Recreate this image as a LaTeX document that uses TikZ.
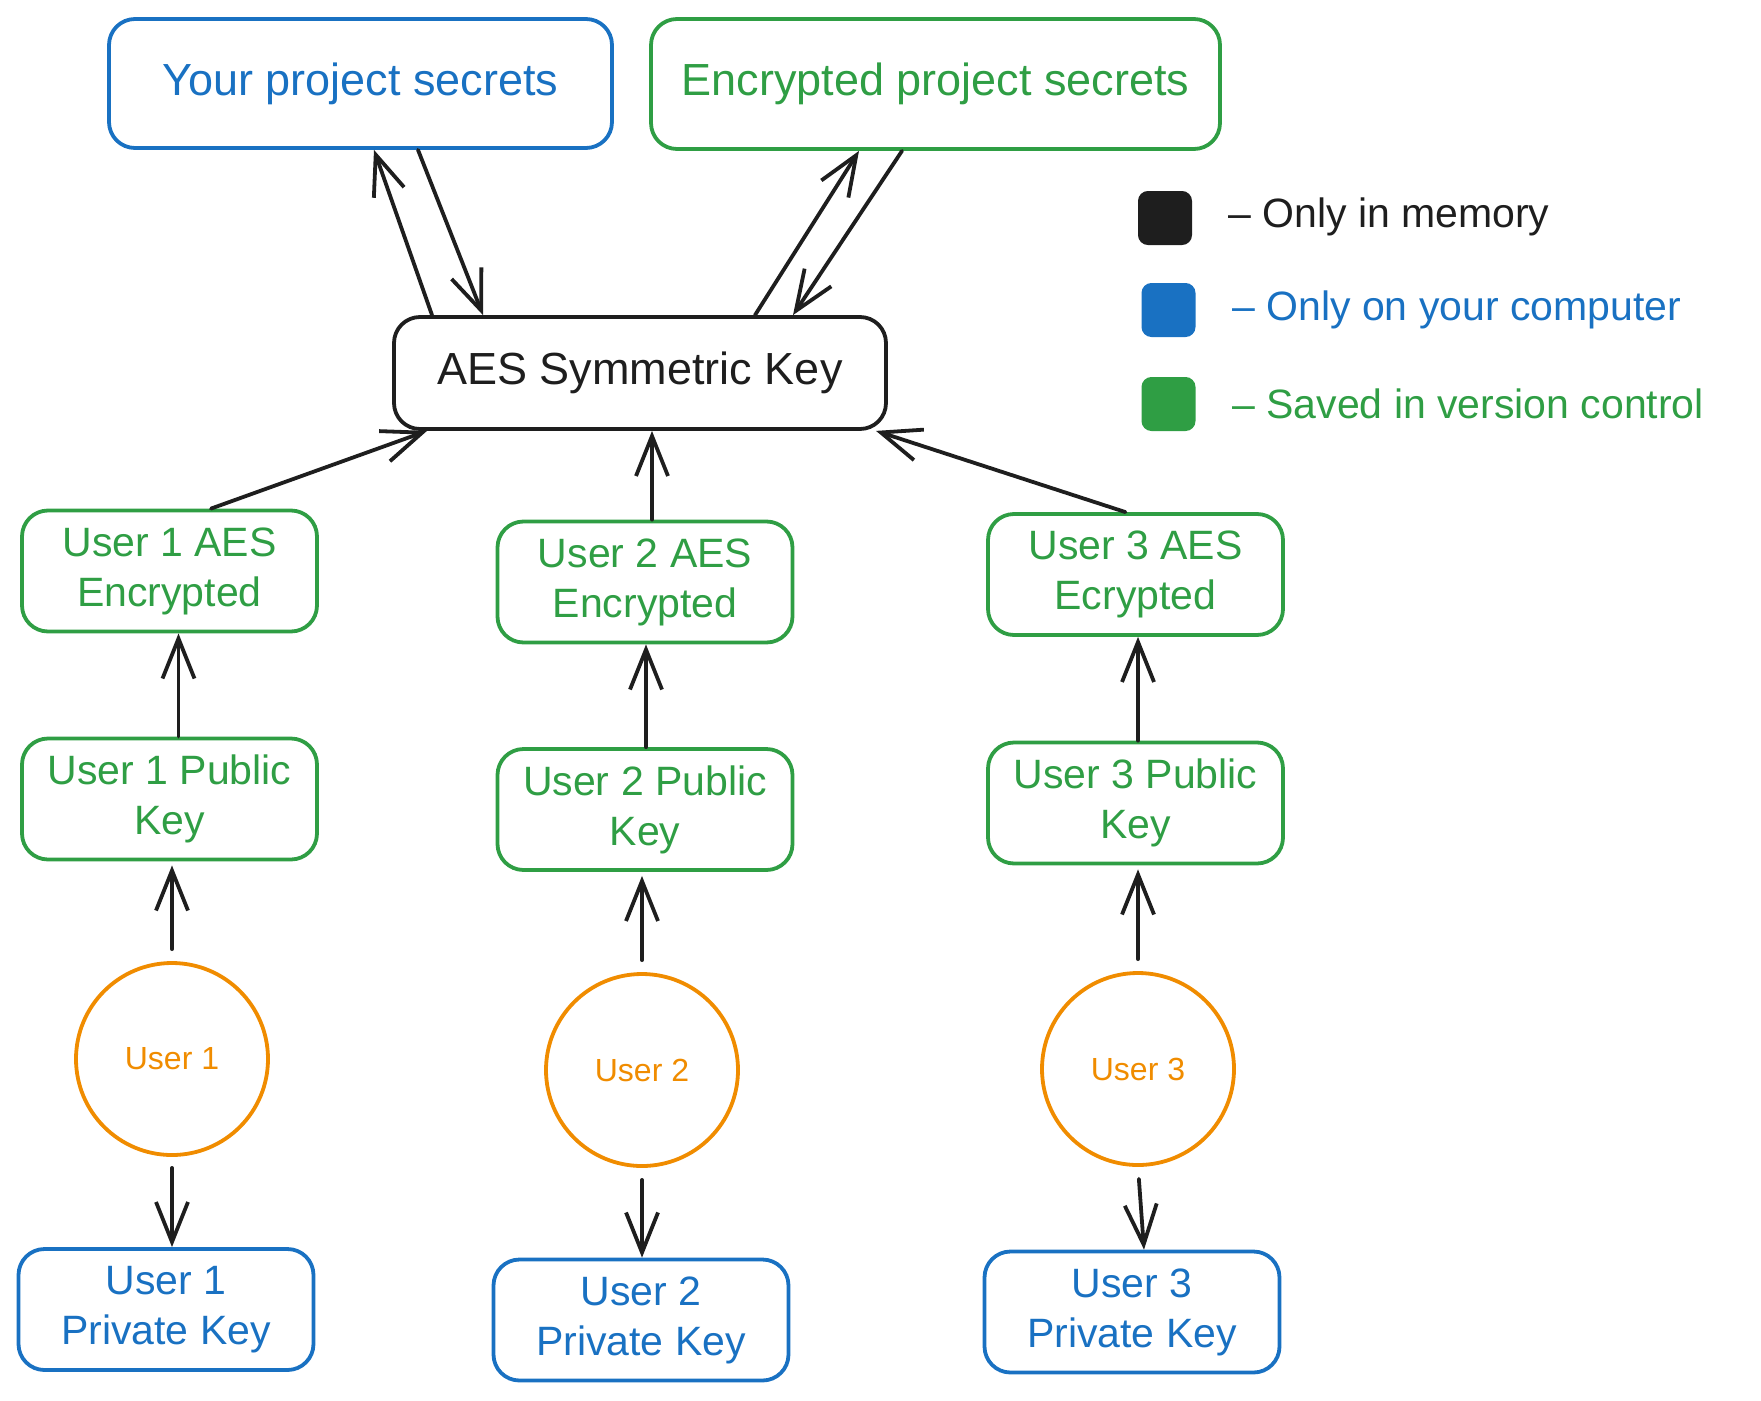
\documentclass[tikz,border=0pt]{standalone}
\usepackage{fontspec}
\setmainfont{Liberation Sans}
\usetikzlibrary{arrows.meta}
\definecolor{cblue}{HTML}{1971C2}
\definecolor{cgreen}{HTML}{2F9E44}
\definecolor{corange}{HTML}{F08C00}
\definecolor{cink}{HTML}{1E1E1E}
\begin{document}
\begin{tikzpicture}[x=1pt,y=-1pt,
  colbox/.style={draw=#1, text=#1, line width=3.8pt, rounded corners=26pt, align=center, inner sep=0pt},
  topfont/.style={font=\fontsize{45}{52}\selectfont},
  midfont/.style={font=\fontsize{41}{50}\selectfont},
  midsize/.style={minimum width=295pt, minimum height=121pt},
  usernode/.style={circle, draw=corange, text=corange, line width=3.8pt, minimum size=192pt, inner sep=0pt, font=\fontsize{32}{38}\selectfont},
  legsq/.style={fill=#1, draw=#1, line width=2pt, rounded corners=9pt, minimum width=52pt, minimum height=52pt, inner sep=0pt},
  legtext/.style={text=#1, anchor=west, inner sep=0pt, font=\fontsize{41}{48}\selectfont},
  arr/.style={draw=cink, line width=3.8pt, line cap=round, -{Straight Barb[length=40pt,width=32pt]}}
]
\path[use as bounding box] (0,0) rectangle (1761,1400);

% top row
\node[colbox=cblue, topfont, minimum width=503pt, minimum height=129pt] (ys) at (360.5,83.5) {Your project secrets};
\node[colbox=cgreen, topfont, minimum width=569pt, minimum height=130pt] (eps) at (935.5,84) {Encrypted project secrets};
\node[colbox=cink, topfont, minimum width=492pt, minimum height=112pt] (aes) at (640,373) {AES Symmetric Key};

% AES encrypted row
\node[colbox=cgreen, midfont, midsize] (u1a) at (169.5,571) {User 1 AES\\Encrypted};
\node[colbox=cgreen, midfont, midsize] (u2a) at (645,582) {User 2 AES\\Encrypted};
\node[colbox=cgreen, midfont, midsize] (u3a) at (1135.5,574.5) {User 3 AES\\Ecrypted};

% public key row
\node[colbox=cgreen, midfont, midsize] (p1) at (169.5,799) {User 1 Public\\Key};
\node[colbox=cgreen, midfont, midsize] (p2) at (645,809.5) {User 2 Public\\Key};
\node[colbox=cgreen, midfont, midsize] (p3) at (1135.5,803) {User 3 Public\\Key};

% users
\node[usernode] (c1) at (172,1059) {User 1};
\node[usernode] (c2) at (642,1070) {User 2};
\node[usernode] (c3) at (1138,1069) {User 3};

% private keys
\node[colbox=cblue, midfont, midsize] (k1) at (166,1309.5) {User 1\\Private Key};
\node[colbox=cblue, midfont, midsize] (k2) at (641,1320) {User 2\\Private Key};
\node[colbox=cblue, midfont, midsize] (k3) at (1132,1312) {User 3\\Private Key};

% legend
\node[legsq=cink] (sq1) at (1165,218) {};
\node[legsq=cblue] (sq2) at (1168.5,310) {};
\node[legsq=cgreen] (sq3) at (1168.5,404) {};
\node[legtext=cink] (l1) at (1228,217) {– Only in memory};
\node[legtext=cblue] (l2) at (1232,310) {– Only on your computer};
\node[legtext=cgreen] (l3) at (1232,404) {– Saved in version control};

% arrows between top boxes and AES key
\draw[arr] ([xshift=-208pt]aes.north) -- ([xshift=13.5pt]ys.south);
\draw[arr] ([xshift=57.5pt]ys.south) -- ([xshift=-157pt]aes.north);
\draw[arr] ([xshift=115pt]aes.north) -- ([xshift=-76.5pt]eps.south);
\draw[arr] ([xshift=-33.5pt]eps.south) -- ([xshift=153pt]aes.north);

% encrypted keys to AES key
\draw[arr] ([xshift=41.5pt]u1a.north) -- ([xshift=-213pt]aes.south);
\draw[arr] ([xshift=7pt]u2a.north) -- ([xshift=12pt]aes.south);
\draw[arr] ([xshift=-10pt]u3a.north) -- ([xshift=236pt]aes.south);

% public keys to encrypted
\draw[arr] ([xshift=9pt]p1.north) -- ([xshift=9pt]u1a.south);
\draw[arr] ([xshift=1pt]p2.north) -- ([xshift=1pt]u2a.south);
\draw[arr] ([xshift=2.5pt]p3.north) -- ([xshift=2.5pt]u3a.south);

% users to public keys
\draw[arr, shorten <=12pt, shorten >=4pt] (c1.north) -- (c1.north |- p1.south);
\draw[arr, shorten <=12pt, shorten >=4pt] (c2.north) -- (c2.north |- p2.south);
\draw[arr, shorten <=12pt, shorten >=4pt] (c3.north) -- (c3.north |- p3.south);

% users to private keys
\draw[arr, shorten <=11pt] (c1.south) -- (c1.south |- k1.north);
\draw[arr, shorten <=12pt] (c2.south) -- (c2.south |- k2.north);
\draw[arr, shorten <=12pt] (c3.south) -- ([xshift=6pt]c3.south |- k3.north);
\end{tikzpicture}
\end{document}
